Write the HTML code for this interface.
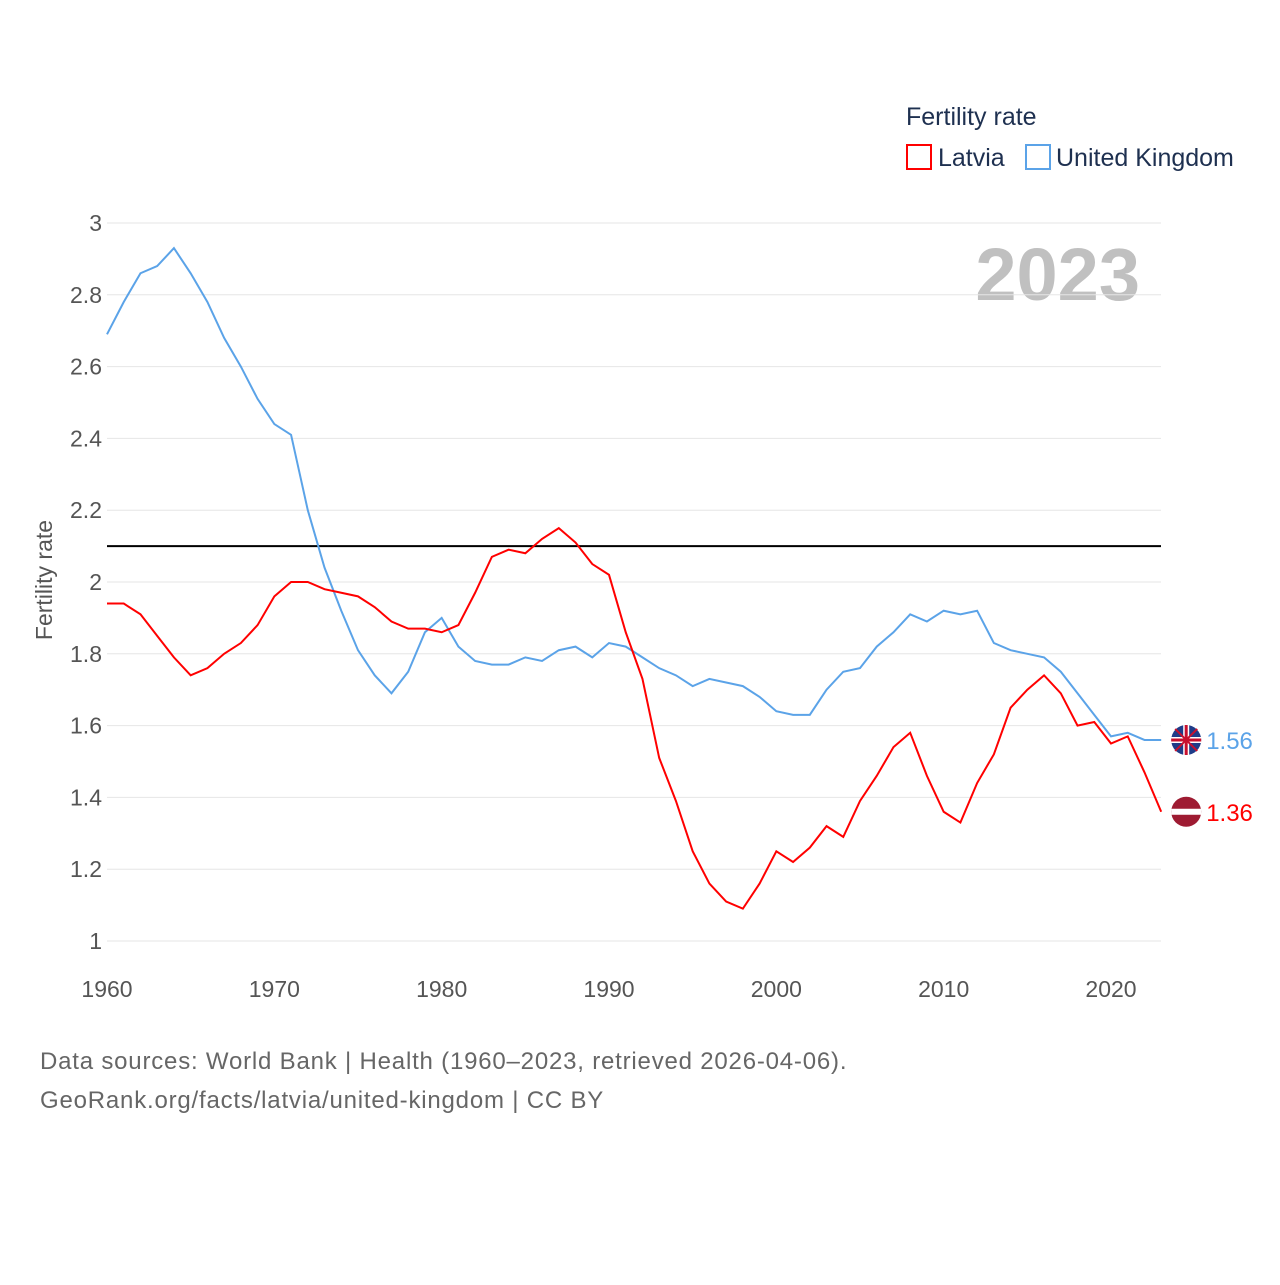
<!DOCTYPE html>
<html><head><meta charset="utf-8"><style>
body{margin:0;background:#fff;font-family:"Liberation Sans",sans-serif}
svg text{font-family:"Liberation Sans",sans-serif}
</style></head><body>
<svg id="c" width="1280" height="1280" xmlns="http://www.w3.org/2000/svg">
<text x="906" y="125" font-size="25" fill="#1e3050">Fertility rate</text>
<g><rect x="907" y="145" width="24" height="24" fill="none" stroke="#ff0000" stroke-width="2"/><text x="938" y="166" font-size="25" fill="#1e3050">Latvia</text></g>
<g><rect x="1026" y="145" width="24" height="24" fill="none" stroke="#5ba3e8" stroke-width="2"/><text x="1056" y="166" font-size="25" fill="#1e3050">United Kingdom</text></g>
<text x="1140" y="300" font-size="74" font-weight="bold" fill="#c0c0c0" text-anchor="end">2023</text>
<text transform="translate(52,580) rotate(-90)" font-size="23" fill="#555" text-anchor="middle">Fertility rate</text>
<g id="grid"></g><g id="lines"></g>
<text x="40" y="1069" font-size="24" fill="#666" letter-spacing="0.8">Data sources: World Bank | Health (1960–2023, retrieved 2026-04-06).</text>
<text x="40" y="1108" font-size="24" fill="#666" letter-spacing="0.8">GeoRank.org/facts/latvia/united-kingdom | CC BY</text>
</svg>
<script>
const years=[];for(let y=1960;y<=2023;y++)years.push(y);
const uk=[2.69,2.78,2.86,2.88,2.93,2.86,2.78,2.68,2.60,2.51,2.44,2.41,2.20,2.04,1.92,1.81,1.74,1.69,1.75,1.86,1.90,1.82,1.78,1.77,1.77,1.79,1.78,1.81,1.82,1.79,1.83,1.82,1.79,1.76,1.74,1.71,1.73,1.72,1.71,1.68,1.64,1.63,1.63,1.70,1.75,1.76,1.82,1.86,1.91,1.89,1.92,1.91,1.92,1.83,1.81,1.80,1.79,1.75,1.69,1.63,1.57,1.58,1.56,1.56];
const lv=[1.94,1.94,1.91,1.85,1.79,1.74,1.76,1.80,1.83,1.88,1.96,2.00,2.00,1.98,1.97,1.96,1.93,1.89,1.87,1.87,1.86,1.88,1.97,2.07,2.09,2.08,2.12,2.15,2.11,2.05,2.02,1.86,1.73,1.51,1.39,1.25,1.16,1.11,1.09,1.16,1.25,1.22,1.26,1.32,1.29,1.39,1.46,1.54,1.58,1.46,1.36,1.33,1.44,1.52,1.65,1.70,1.74,1.69,1.60,1.61,1.55,1.57,1.47,1.36];
const yTicks=[1,1.2,1.4,1.6,1.8,2,2.2,2.4,2.6,2.8,3];
const xTicks=[1960,1970,1980,1990,2000,2010,2020];
const refValue=2.1;
const X=y=>107+(y-1960)*(1111-107)/60, Y=v=>941-(v-1)*359;
const NS="http://www.w3.org/2000/svg";
const g=document.getElementById('grid'),L=document.getElementById('lines');
function mk(t,a,p,txt){const e=document.createElementNS(NS,t);for(const k in a)e.setAttribute(k,a[k]);if(txt!=null)e.textContent=txt;p.appendChild(e);return e;}
yTicks.forEach(v=>{
 const l=mk('line',{x1:107,x2:1161,y1:Y(v),y2:Y(v),stroke:'#e6e6e6','stroke-width':1},g);
 
 
 const t=mk('text',{x:102,y:Y(v)+8,'font-size':23,fill:'#555','text-anchor':'end'},g,String(v));
 
 
});
xTicks.forEach(v=>{
 const t=mk('text',{x:X(v),y:997,'font-size':23,fill:'#555','text-anchor':'middle'},g,String(v));
 
 
});
const ref=mk('line',{x1:107,x2:1161,y1:Y(refValue),y2:Y(refValue),stroke:'#000','stroke-width':2},L);


function series(d,col,name){
 const p=mk('polyline',{points:d.map((v,i)=>X(years[i])+','+Y(v)).join(' '),fill:'none',stroke:col,'stroke-width':2},L);
 
 
 const last=d[d.length-1],cx=X(years[years.length-1])+25,cy=Y(last);
 const c=mk('circle',{cx:cx,cy:cy,r:15,fill:name=='uk'?'#1f3c88':'#9e1b32'},L);
 
 
 if(name=='uk'){
  mk('path',{d:`M${cx-15} ${cy}H${cx+15}M${cx} ${cy-15}V${cy+15}`,stroke:'#fff','stroke-width':6},L);
  mk('path',{d:`M${cx-11} ${cy-11}L${cx+11} ${cy+11}M${cx+11} ${cy-11}L${cx-11} ${cy+11}`,stroke:'#c8102e','stroke-width':2},L);
  mk('path',{d:`M${cx-15} ${cy}H${cx+15}M${cx} ${cy-15}V${cy+15}`,stroke:'#c8102e','stroke-width':3},L);
 } else {
  mk('rect',{x:cx-15,y:cy-3,width:30,height:6,fill:'#fff'},L);
 }
 const t=mk('text',{x:cx+20,y:cy+9,'font-size':24,fill:col},L,last.toFixed(2));
 
 
}
series(uk,'#5ba3e8','uk');
series(lv,'#ff0000','latvia');
</script>
</body></html>
